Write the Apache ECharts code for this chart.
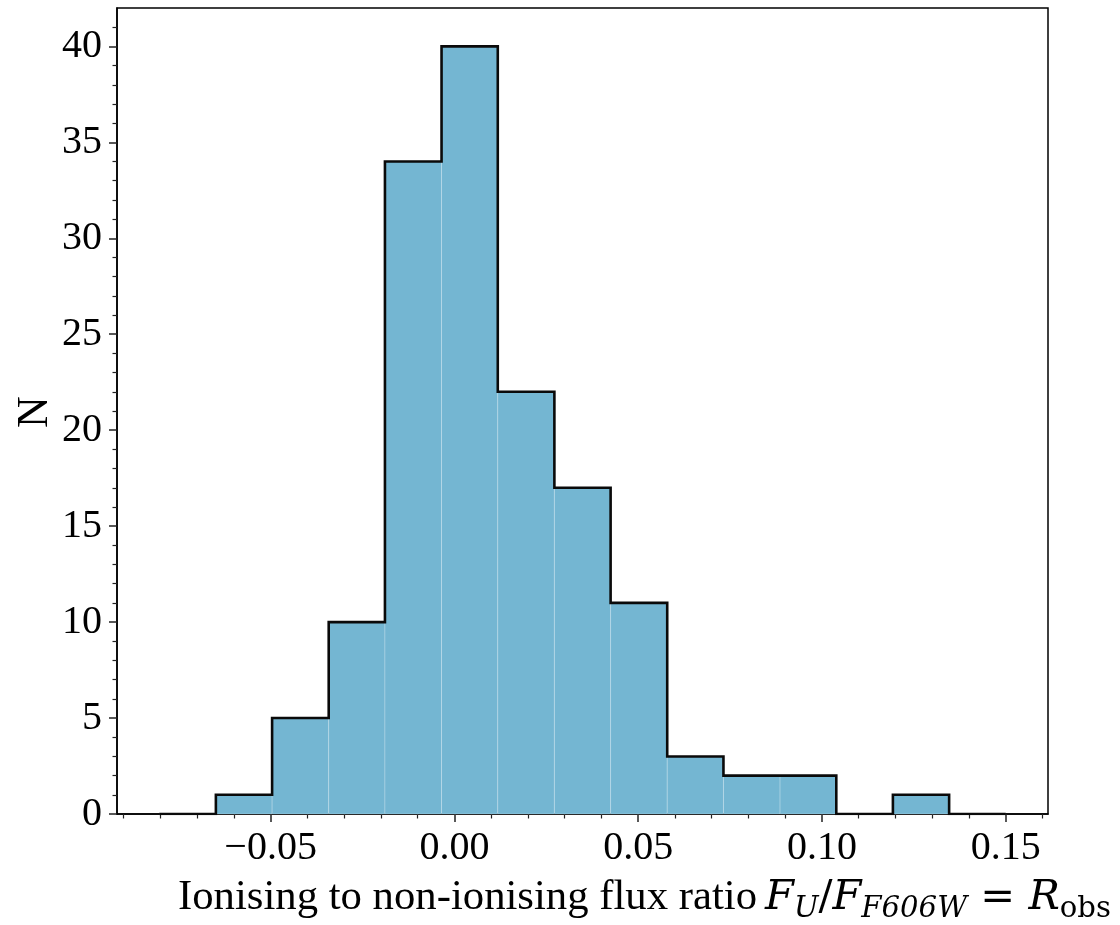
<!DOCTYPE html>
<html>
<head>
<meta charset="utf-8">
<script src="https://cdn.jsdelivr.net/npm/echarts@6/dist/echarts.min.js"></script>
<style>
html,body{margin:0;padding:0;background:#fff;}
#chart{width:1120px;height:925px;}
</style>
</head>
<body>
<div id="chart"></div>
<script>
// ---- data ----
const binEdges = [-0.0803, -0.0649, -0.0496, -0.0342, -0.0189, -0.0035, 0.0118, 0.0272, 0.0425, 0.0579, 0.0732, 0.0886, 0.1039, 0.1193, 0.1346, 0.1500];
const counts = [0, 1, 5, 10, 34, 40, 22, 17, 11, 3, 2, 2, 0, 1, 0];
const xMajorTicks = [-0.05, 0.00, 0.05, 0.10, 0.15];
const xTickLabels = ['\u22120.05', '0.00', '0.05', '0.10', '0.15'];
const xMinorTicks = [-0.09, -0.08, -0.07, -0.06, -0.04, -0.03, -0.02, -0.01, 0.01, 0.02, 0.03, 0.04, 0.06, 0.07, 0.08, 0.09, 0.11, 0.12, 0.13, 0.14, 0.16];
const yMajorTicks = [0, 5, 10, 15, 20, 25, 30, 35, 40];
const yTickLabels = ['0', '5', '10', '15', '20', '25', '30', '35', '40'];
const yMinorTicks = [1,2,3,4,6,7,8,9,11,12,13,14,16,17,18,19,21,22,23,24,26,27,28,29,31,32,33,34,36,37,38,39,41];
const xRange = [-0.0918, 0.1615];
const yRange = [0, 42];
const yLabel = 'N';
const xLabelText = 'Ionising to non-ionising flux ratio';
const xLabelMath = [
  {t: 'F', style: 'italic', sub: false},
  {t: 'U', style: 'italic', sub: true},
  {t: '/', style: 'normal', sub: false},
  {t: 'F', style: 'italic', sub: false},
  {t: 'F606W', style: 'italic', sub: true},
  {t: ' = ', style: 'normal', sub: false},
  {t: 'R', style: 'italic', sub: false},
  {t: 'obs', style: 'normal', sub: true}
];

// ---- build ----
const FONT = '"Liberation Serif", "DejaVu Serif", serif';
const MATHFONT = '"DejaVu Serif", "Liberation Serif", serif';
const barData = counts.map((c, i) => [binEdges[i], binEdges[i + 1], c]);
const stepData = counts.map((c, i) => [binEdges[i], c]);
stepData.push([binEdges[binEdges.length - 1], counts[counts.length - 1]]);

function labelFor(v, ticks, labels) {
  let best = 0;
  for (let i = 0; i < ticks.length; i++) if (Math.abs(ticks[i] - v) < Math.abs(ticks[best] - v)) best = i;
  return labels[best];
}

const chart = echarts.init(document.getElementById('chart'), null, {renderer: 'canvas'});

// x label layout measured with canvas
const cv = document.createElement('canvas').getContext('2d');
const textLeft = 178, textRight = 757, mathLeft = 765, mathRight = 1111, xLabelBase = 909;
function fontStr(p, size, fam) {
  const fs = p.sub ? size * 0.7 : size;
  return p.style + ' ' + fs.toFixed(2) + 'px ' + fam;
}
function measureParts(parts, size, fam) {
  let w = 0;
  parts.forEach(p => { cv.font = fontStr(p, size, fam); w += cv.measureText(p.t).width; });
  return w;
}
function baselineBelowMiddle(font) {
  cv.font = font;
  cv.textBaseline = 'alphabetic';
  const a = cv.measureText('H').actualBoundingBoxAscent;
  cv.textBaseline = 'middle';
  const b = cv.measureText('H').actualBoundingBoxAscent;
  cv.textBaseline = 'alphabetic';
  return a - b;
}
const labelEls = [];
function layout(parts, left, mainSize, fam) {
  let cx = left;
  parts.forEach(p => {
    const f = fontStr(p, mainSize, fam);
    cv.font = f;
    const w = cv.measureText(p.t).width;
    const base = xLabelBase + (p.sub ? mainSize * 0.2 : 0);
    const off = baselineBelowMiddle(f);
    labelEls.push({
      type: 'text', silent: true, x: cx, y: base - off,
      style: {text: p.t, font: f, fill: '#000', align: 'left', verticalAlign: 'middle'}
    });
    cx += w;
  });
}
const textParts = [{t: xLabelText, style: 'normal', sub: false}];
const textSize = 100 * (textRight - textLeft) / measureParts(textParts, 100, FONT);
const mathSize = 100 * (mathRight - mathLeft) / measureParts(xLabelMath, 100, MATHFONT);
layout(textParts, textLeft, textSize, FONT);
layout(xLabelMath, mathLeft, mathSize, MATHFONT);

const option = {
  animation: false,
  backgroundColor: '#fff',
  grid: {left: 117, right: 72, top: 8, bottom: 111, show: true, borderColor: '#000', borderWidth: 1.5, backgroundColor: 'transparent'},
  xAxis: [
    {
      type: 'value', min: xRange[0], max: xRange[1], position: 'bottom',
      axisLine: {show: true, onZero: false, lineStyle: {color: '#000', width: 1.5}},
      axisTick: {show: true, customValues: xMajorTicks, length: 8, inside: false, lineStyle: {color: '#222', width: 1.5}},
      axisLabel: {show: true, customValues: xMajorTicks, margin: 14, fontFamily: FONT, fontSize: 40, color: '#000',
        formatter: v => labelFor(v, xMajorTicks, xTickLabels)},
      splitLine: {show: false}
    },
    {
      type: 'value', min: xRange[0], max: xRange[1], position: 'bottom', gridIndex: 0,
      axisLine: {show: false, onZero: false},
      axisTick: {show: true, customValues: xMinorTicks, length: 4.5, lineStyle: {color: '#222', width: 1.2}},
      axisLabel: {show: false},
      splitLine: {show: false}
    }
  ],
  yAxis: [
    {
      type: 'value', min: yRange[0], max: yRange[1], position: 'left',
      axisLine: {show: true, onZero: false, lineStyle: {color: '#000', width: 1.5}},
      axisTick: {show: true, customValues: yMajorTicks, length: 8, lineStyle: {color: '#222', width: 1.5}},
      axisLabel: {show: true, customValues: yMajorTicks, margin: 15, fontFamily: FONT, fontSize: 40, color: '#000',
        formatter: v => labelFor(v, yMajorTicks, yTickLabels)},
      splitLine: {show: false}
    },
    {
      type: 'value', min: yRange[0], max: yRange[1], position: 'left', gridIndex: 0,
      axisLine: {show: false, onZero: false},
      axisTick: {show: true, customValues: yMinorTicks, length: 4.5, lineStyle: {color: '#222', width: 1.2}},
      axisLabel: {show: false},
      splitLine: {show: false}
    }
  ],
  series: [
    {
      type: 'custom', xAxisIndex: 0, yAxisIndex: 0, z: 2,
      data: barData,
      encode: {x: [0, 1], y: 2},
      renderItem: function (params, api) {
        const p0 = api.coord([api.value(0), api.value(2)]);
        const p1 = api.coord([api.value(1), 0]);
        return {
          type: 'rect',
          shape: {x: p0[0], y: p0[1], width: p1[0] - p0[0], height: p1[1] - p0[1]},
          style: {fill: '#74b6d2', stroke: 'rgba(255,255,255,0.22)', lineWidth: 1}
        };
      }
    },
    {
      type: 'line', xAxisIndex: 0, yAxisIndex: 0, z: 3,
      data: stepData, step: 'end', showSymbol: false, symbol: 'none',
      lineStyle: {color: '#0a0a0a', width: 2.6, join: 'miter'}
    }
  ],
  graphic: [
    {
      type: 'text', x: 35, y: 412, rotation: Math.PI / 2, silent: true,
      style: {text: yLabel, font: '44px ' + FONT, fill: '#000', align: 'center', verticalAlign: 'middle'}
    }
  ].concat(labelEls)
};
chart.setOption(option);
</script>
</body>
</html>
